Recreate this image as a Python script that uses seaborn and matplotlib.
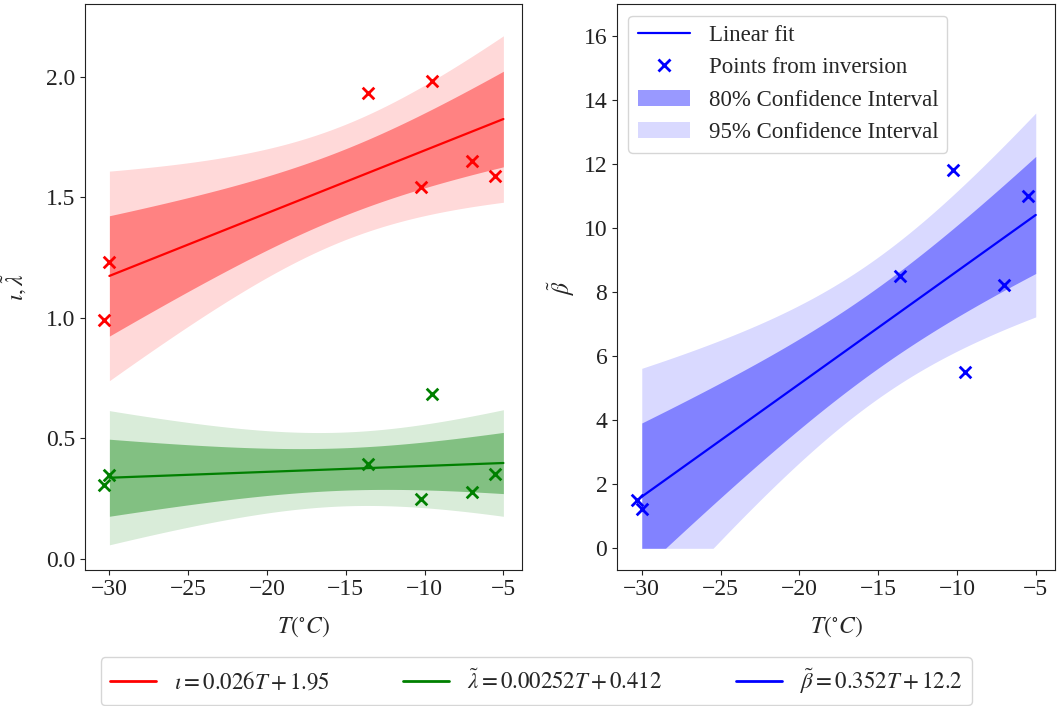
import numpy as np
import pandas as pd
import matplotlib
matplotlib.use("Agg")
import matplotlib.pyplot as plt
import seaborn as sns
from matplotlib.lines import Line2D
from matplotlib.patches import Patch

# temperatures of the inversion points (deg C)
T_points = [-30.33, -30.0, -13.6, -10.22, -9.52, -7.01, -5.52]
# values from inversion
iota = [0.993, 1.23, 1.932, 1.541, 1.98, 1.651, 1.59]
lam = [0.306, 0.347, 0.394, 0.251, 0.686, 0.277, 0.354]
beta = [1.52, 1.23, 8.5, 11.83, 5.5, 8.24, 11.02]

fit_labels = [r"$\iota = 0.026T + 1.95$",
              r"$\tilde{\lambda} = 0.00252T + 0.412$",
              r"$\tilde{\beta} = 0.352T + 12.2$"]
colors = ["red", "green", "blue"]

T_min, T_max = -30, -5
# student t quantiles, 5 dof
t80 = 1.476
t95 = 2.571

sns.set_style("ticks")
plt.rcParams["font.family"] = ["Liberation Serif", "DejaVu Serif"]
plt.rcParams["mathtext.fontset"] = "stix"
plt.rcParams["font.size"] = 17
plt.rcParams["legend.fontsize"] = 16.5
plt.rcParams["axes.edgecolor"] = "#222222"
plt.rcParams["xtick.color"] = "#222222"
plt.rcParams["ytick.color"] = "#222222"


def fit_band(x, y, grid):
    """OLS line plus confidence bands of the mean."""
    x = np.asarray(x)
    y = np.asarray(y)
    slope, icpt = np.polyfit(x, y, 1)
    res = y - (slope * x + icpt)
    s = np.sqrt(np.sum(res ** 2) / (len(x) - 2))
    sxx = np.sum((x - x.mean()) ** 2)
    se = s * np.sqrt(1 / len(x) + (grid - x.mean()) ** 2 / sxx)
    yhat = slope * grid + icpt
    return pd.DataFrame({
        "T": grid, "fit": yhat,
        "lo80": np.clip(yhat - t80 * se, 0, None), "hi80": yhat + t80 * se,
        "lo95": np.clip(yhat - t95 * se, 0, None), "hi95": yhat + t95 * se,
    })


grid = np.linspace(T_min, T_max, 200)
pts = pd.DataFrame({"T": T_points, "iota": iota, "lam": lam, "beta": beta})

fig, axs = plt.subplots(1, 2, figsize=(10.58, 7.06), dpi=100)
fig.subplots_adjust(left=0.080, right=0.997, top=0.994, bottom=0.193, wspace=0.216)


def draw(ax, col, color):
    band = fit_band(pts["T"], pts[col], grid)
    ax.fill_between(band["T"], band["lo95"], band["hi95"], color=color, alpha=0.15, lw=0)
    ax.fill_between(band["T"], band["lo80"], band["hi80"], color=color, alpha=0.4, lw=0)
    sns.lineplot(x="T", y="fit", data=band, ax=ax, color=color, lw=1.6, legend=False)
    sns.scatterplot(x="T", y=col, data=pts, ax=ax, color=color, marker="x",
                    s=70, linewidth=2, legend=False, zorder=3)


# left: iota and lambda
draw(axs[0], "iota", colors[0])
draw(axs[0], "lam", colors[1])
axs[0].set_ylim(-0.044, 2.30)
axs[0].set_ylabel(r"$\iota, \tilde{\lambda}$", labelpad=12)

# right: beta
draw(axs[1], "beta", colors[2])
axs[1].set_ylim(-0.67, 17.0)
axs[1].set_ylabel(r"$\tilde{\beta}$", labelpad=5)

for ax in axs:
    ax.set_xlim(-31.57, -3.79)
    ax.set_xlabel(r"$T(^{\circ}C)$", labelpad=10)

handles = [Line2D([], [], color="blue", lw=1.6),
           Line2D([], [], color="blue", marker="x", ls="", ms=8, mew=2),
           Patch(color="blue", alpha=0.4, lw=0),
           Patch(color="blue", alpha=0.15, lw=0)]
axs[1].legend(handles, ["Linear fit", "Points from inversion",
                        "80% Confidence Interval", "95% Confidence Interval"],
              loc="upper left", handlelength=2.3)

fit_handles = [Line2D([], [], color=c, lw=2) for c in colors]
fig.legend(fit_handles, fit_labels, loc="center", ncol=3,
           bbox_to_anchor=(0.507, 0.035), columnspacing=3.2)

fig.savefig("out.png", dpi=100)
